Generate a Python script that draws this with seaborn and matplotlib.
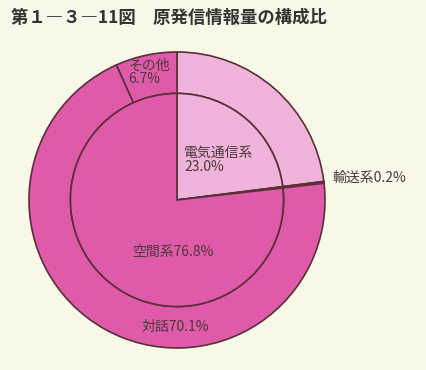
import matplotlib
matplotlib.use("Agg")
import matplotlib.pyplot as plt
import seaborn as sns

# outer ring (clockwise from 12 o'clock)
outer_labels = ["電気通信系", "輸送系", "対話", "その他"]
outer_values = [23.0, 0.2, 70.1, 6.7]

# inner pie
inner_labels = ["電気通信系", "輸送系", "空間系"]
inner_values = [23.0, 0.2, 76.8]

title = "第１―３―11図　原発信情報量の構成比"

sns.set_theme(style="white")
plt.rcParams['font.family'] = ['Noto Sans CJK JP', 'DejaVu Sans']

light = "#f0b4dc"
mag = "#e05aaa"
edge = "#5a3038"
bg = "#f8f8e8"

fig = plt.figure(figsize=(4.26, 3.70), dpi=100, facecolor=bg)
ax = fig.add_axes([0.068, 0.0595, 0.695, 0.8])
ax.set_facecolor(bg)

ax.pie(outer_values, radius=1.0, startangle=90, counterclock=False,
       colors=[light, mag, mag, mag],
       wedgeprops=dict(width=0.28, edgecolor=edge, linewidth=1.2))
ax.pie(inner_values, radius=0.72, startangle=90, counterclock=False,
       colors=[light, mag, mag],
       wedgeprops=dict(edgecolor=edge, linewidth=1.2))
ax.set_aspect("equal")
ax.set_xlim(-1.0, 1.0)
ax.set_ylim(-1.0, 1.0)
ax.axis("off")

tc = "#4a3a3a"
fs = 10
ax.text(0.05, 0.27, f"{inner_labels[0]}\n{inner_values[0]:.1f}%", fontsize=fs,
        color=tc, ha="left", va="center", linespacing=0.95)
ax.text(1.05, 0.15, f"{outer_labels[1]}{outer_values[1]:.1f}%", fontsize=fs,
        color=tc, ha="left", va="center")
ax.text(-0.03, -0.35, f"{inner_labels[2]}{inner_values[2]:.1f}%", fontsize=fs,
        color=tc, ha="center", va="center")
ax.text(-0.01, -0.86, f"{outer_labels[2]}{outer_values[2]:.1f}%", fontsize=fs,
        color=tc, ha="center", va="center")
ax.text(-0.33, 0.86, f"{outer_labels[3]}\n{outer_values[3]:.1f}%", fontsize=fs,
        color=tc, ha="left", va="center", linespacing=0.95)

fig.text(0.025, 0.951, title, fontsize=12.5, fontweight="bold", color="#333333",
         ha="left", va="center")

fig.savefig("out.png", dpi=100, facecolor=bg)
